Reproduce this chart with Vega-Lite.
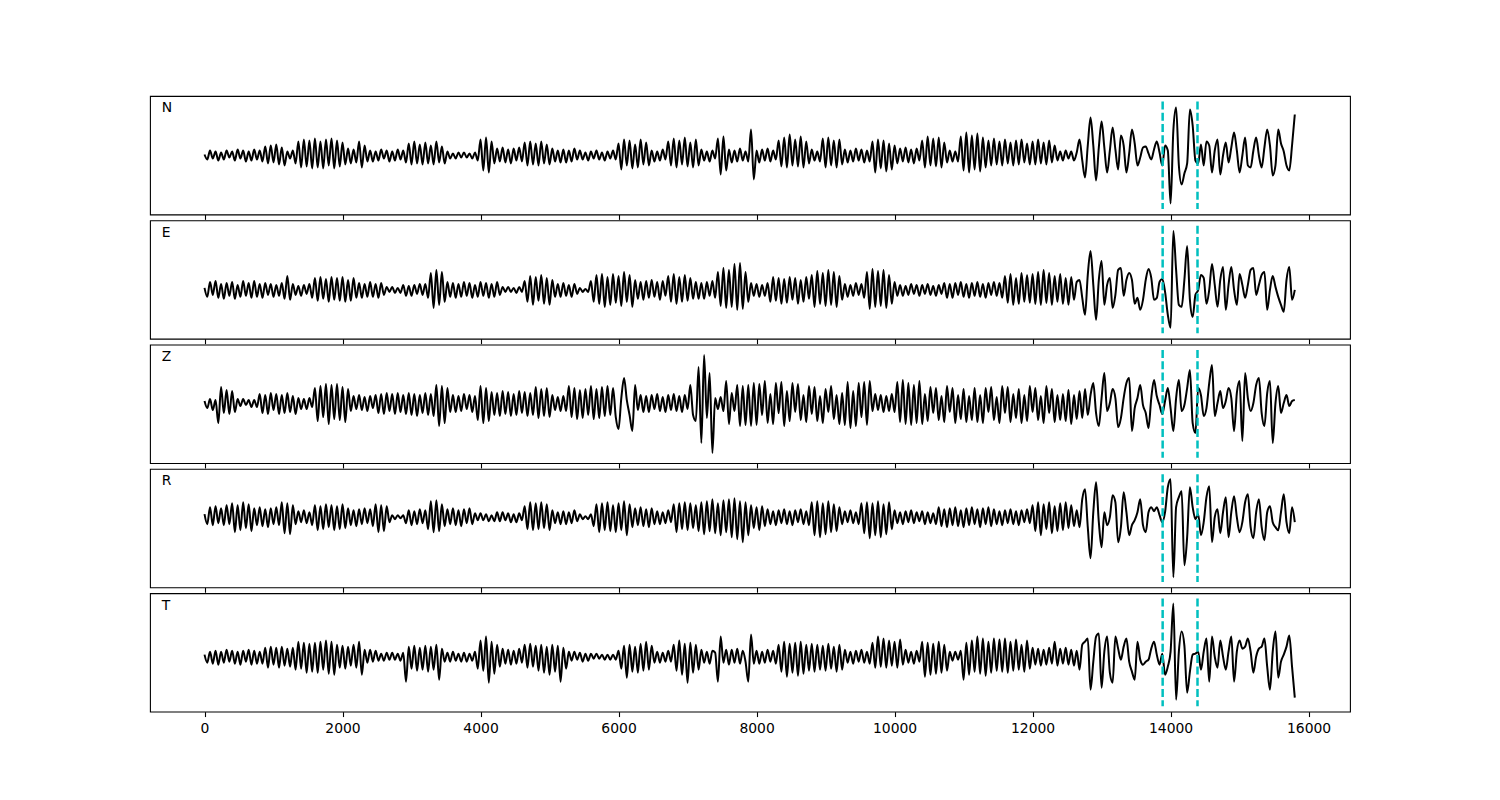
{
"$schema":"https://vega.github.io/schema/vega-lite/v6.json",
"padding":{"left":149,"top":95,"right":0,"bottom":0},
"background":"#ffffff",
"config":{"view":{"stroke":"#000000","strokeWidth":1.1}},
"spacing":5.3,
"bounds":"flush",
"data":{"values":[
{"x":0,"N":1,"E":2,"Z":2,"R":3,"T":2},{"x":40,"N":-4,"E":-7,"Z":-5,"R":-7,"T":-6},{"x":80,"N":5,"E":8,"Z":4,"R":10,"T":5},{"x":120,"N":-3,"E":-5,"Z":-7,"R":-8,"T":-7},{"x":160,"N":4,"E":9,"Z":3,"R":11,"T":6},{"x":200,"N":-5,"E":-8,"Z":-20,"R":-6,"T":-8},{"x":240,"N":3,"E":6,"Z":16,"R":9,"T":5},{"x":280,"N":-4,"E":-9,"Z":-10,"R":-8,"T":-6},{"x":320,"N":5,"E":7,"Z":13,"R":12,"T":7},{"x":360,"N":-2,"E":-6,"Z":-11,"R":-7,"T":-5},
{"x":400,"N":4,"E":8,"Z":12,"R":14,"T":6},{"x":440,"N":-5,"E":-9,"Z":-9,"R":-15,"T":-7},{"x":480,"N":6,"E":5,"Z":4,"R":12,"T":5},{"x":520,"N":-3,"E":-7,"Z":-3,"R":-13,"T":-8},{"x":560,"N":5,"E":9,"Z":4,"R":15,"T":6},{"x":600,"N":-6,"E":-6,"Z":-2,"R":-11,"T":-5},{"x":640,"N":4,"E":7,"Z":3,"R":13,"T":7},{"x":680,"N":-5,"E":-8,"Z":-4,"R":-14,"T":-8},{"x":720,"N":6,"E":9,"Z":3,"R":9,"T":6},{"x":760,"N":-4,"E":-7,"Z":-4,"R":-8,"T":-7},
{"x":800,"N":5,"E":6,"Z":9,"R":10,"T":5},{"x":840,"N":-6,"E":-8,"Z":-10,"R":-9,"T":-7},{"x":880,"N":9,"E":7,"Z":8,"R":8,"T":9},{"x":920,"N":-8,"E":-5,"Z":-11,"R":-10,"T":-11},{"x":960,"N":10,"E":6,"Z":10,"R":9,"T":10},{"x":1000,"N":-7,"E":-7,"Z":-7,"R":-7,"T":-8},{"x":1040,"N":11,"E":5,"Z":9,"R":10,"T":9},{"x":1080,"N":-9,"E":-6,"Z":-11,"R":-8,"T":-11},{"x":1120,"N":8,"E":7,"Z":8,"R":15,"T":10},{"x":1160,"N":-10,"E":-9,"Z":-10,"R":-16,"T":-9},
{"x":1200,"N":4,"E":14,"Z":10,"R":14,"T":8},{"x":1240,"N":-3,"E":-10,"Z":-9,"R":-17,"T":-10},{"x":1280,"N":5,"E":6,"Z":7,"R":12,"T":9},{"x":1320,"N":-8,"E":-5,"Z":-11,"R":-7,"T":-13},{"x":1360,"N":14,"E":4,"Z":5,"R":6,"T":15},{"x":1400,"N":-12,"E":-6,"Z":-6,"R":-5,"T":-12},{"x":1440,"N":16,"E":5,"Z":4,"R":7,"T":14},{"x":1480,"N":-11,"E":-4,"Z":-6,"R":-6,"T":-16},{"x":1520,"N":15,"E":6,"Z":5,"R":5,"T":13},{"x":1560,"N":-13,"E":-8,"Z":-4,"R":-8,"T":-15},
{"x":1600,"N":17,"E":12,"Z":15,"R":12,"T":14},{"x":1640,"N":-12,"E":-11,"Z":-18,"R":-13,"T":-16},{"x":1680,"N":14,"E":13,"Z":17,"R":11,"T":15},{"x":1720,"N":-13,"E":-9,"Z":-14,"R":-12,"T":-13},{"x":1760,"N":16,"E":11,"Z":19,"R":13,"T":16},{"x":1800,"N":-10,"E":-12,"Z":-21,"R":-10,"T":-17},{"x":1840,"N":17,"E":13,"Z":18,"R":12,"T":15},{"x":1880,"N":-13,"E":-10,"Z":-16,"R":-13,"T":-18},{"x":1920,"N":15,"E":12,"Z":19,"R":11,"T":12},{"x":1960,"N":-11,"E":-11,"Z":-17,"R":-12,"T":-11},
{"x":2000,"N":13,"E":13,"Z":16,"R":13,"T":11},{"x":2040,"N":-9,"E":-12,"Z":-19,"R":-11,"T":-12},{"x":2080,"N":7,"E":10,"Z":14,"R":9,"T":10},{"x":2120,"N":-8,"E":-11,"Z":-8,"R":-8,"T":-9},{"x":2160,"N":6,"E":12,"Z":7,"R":7,"T":12},{"x":2200,"N":-7,"E":-8,"Z":-6,"R":-9,"T":-11},{"x":2240,"N":14,"E":7,"Z":8,"R":8,"T":15},{"x":2280,"N":-12,"E":-8,"Z":-7,"R":-7,"T":-18},{"x":2320,"N":10,"E":6,"Z":6,"R":9,"T":7},{"x":2360,"N":-6,"E":-7,"Z":-8,"R":-6,"T":-6},
{"x":2400,"N":5,"E":8,"Z":7,"R":8,"T":7},{"x":2440,"N":-6,"E":-7,"Z":-5,"R":-9,"T":-5},{"x":2480,"N":4,"E":6,"Z":8,"R":13,"T":6},{"x":2520,"N":-5,"E":-8,"Z":-10,"R":-15,"T":-4},{"x":2560,"N":6,"E":7,"Z":9,"R":12,"T":3},{"x":2600,"N":-3,"E":-5,"Z":-11,"R":-14,"T":-4},{"x":2640,"N":5,"E":3,"Z":10,"R":11,"T":4},{"x":2680,"N":-6,"E":-2,"Z":-8,"R":-5,"T":-3},{"x":2720,"N":4,"E":3,"Z":9,"R":2,"T":4},{"x":2760,"N":-5,"E":-3,"Z":-11,"R":-2,"T":-3},
{"x":2800,"N":6,"E":2,"Z":10,"R":2,"T":3},{"x":2840,"N":-4,"E":-3,"Z":-9,"R":-1,"T":-4},{"x":2880,"N":5,"E":5,"Z":8,"R":2,"T":4},{"x":2920,"N":-7,"E":-6,"Z":-11,"R":-6,"T":-25},{"x":2960,"N":12,"E":4,"Z":10,"R":7,"T":10},{"x":3000,"N":-9,"E":-6,"Z":-12,"R":-8,"T":-12},{"x":3040,"N":14,"E":5,"Z":9,"R":6,"T":11},{"x":3080,"N":-8,"E":-4,"Z":-13,"R":-7,"T":-14},{"x":3120,"N":11,"E":6,"Z":8,"R":8,"T":9},{"x":3160,"N":-9,"E":-5,"Z":-10,"R":-6,"T":-13},
{"x":3200,"N":13,"E":6,"Z":10,"R":7,"T":11},{"x":3240,"N":-8,"E":-8,"Z":-12,"R":-12,"T":-15},{"x":3280,"N":10,"E":17,"Z":9,"R":16,"T":10},{"x":3320,"N":-9,"E":-18,"Z":-13,"R":-15,"T":-13},{"x":3360,"N":14,"E":20,"Z":18,"R":17,"T":12},{"x":3400,"N":-7,"E":-15,"Z":-23,"R":-14,"T":-23},{"x":3440,"N":9,"E":18,"Z":17,"R":13,"T":8},{"x":3480,"N":-8,"E":-12,"Z":-20,"R":-9,"T":-5},{"x":3520,"N":4,"E":8,"Z":15,"R":8,"T":4},{"x":3560,"N":-3,"E":-7,"Z":-9,"R":-7,"T":-5},
{"x":3600,"N":2,"E":7,"Z":8,"R":9,"T":5},{"x":3640,"N":-3,"E":-8,"Z":-9,"R":-8,"T":-4},{"x":3680,"N":3,"E":6,"Z":7,"R":7,"T":3},{"x":3720,"N":-2,"E":-7,"Z":-8,"R":-9,"T":-5},{"x":3760,"N":3,"E":8,"Z":9,"R":8,"T":4},{"x":3800,"N":-2,"E":-6,"Z":-6,"R":-6,"T":-5},{"x":3840,"N":2,"E":7,"Z":8,"R":9,"T":3},{"x":3880,"N":-3,"E":-8,"Z":-9,"R":-7,"T":-4},{"x":3920,"N":3,"E":5,"Z":7,"R":4,"T":5},{"x":3960,"N":-5,"E":-7,"Z":-17,"R":-3,"T":-12},
{"x":4000,"N":16,"E":8,"Z":17,"R":4,"T":16},{"x":4040,"N":-15,"E":-6,"Z":-20,"R":-3,"T":-14},{"x":4080,"N":18,"E":7,"Z":15,"R":3,"T":20},{"x":4120,"N":-17,"E":-8,"Z":-18,"R":-4,"T":-26},{"x":4160,"N":14,"E":6,"Z":11,"R":2,"T":15},{"x":4200,"N":-8,"E":-7,"Z":-12,"R":-4,"T":-17},{"x":4240,"N":7,"E":8,"Z":10,"R":5,"T":12},{"x":4280,"N":-6,"E":-5,"Z":-13,"R":-4,"T":-10},{"x":4320,"N":8,"E":3,"Z":12,"R":5,"T":8},{"x":4360,"N":-7,"E":-2,"Z":-11,"R":-3,"T":-7},
{"x":4400,"N":6,"E":3,"Z":11,"R":4,"T":7},{"x":4440,"N":-8,"E":-2,"Z":-13,"R":-5,"T":-8},{"x":4480,"N":7,"E":2,"Z":9,"R":3,"T":6},{"x":4520,"N":-5,"E":-3,"Z":-12,"R":-5,"T":-7},{"x":4560,"N":8,"E":3,"Z":12,"R":4,"T":8},{"x":4600,"N":-6,"E":-2,"Z":-10,"R":-3,"T":-6},{"x":4640,"N":13,"E":9,"Z":11,"R":11,"T":12},{"x":4680,"N":-10,"E":-12,"Z":-13,"R":-12,"T":-11},{"x":4720,"N":14,"E":14,"Z":10,"R":15,"T":13},{"x":4760,"N":-9,"E":-15,"Z":-12,"R":-13,"T":-10},
{"x":4800,"N":12,"E":13,"Z":16,"R":14,"T":11},{"x":4840,"N":-10,"E":-11,"Z":-15,"R":-12,"T":-14},{"x":4880,"N":14,"E":15,"Z":14,"R":15,"T":12},{"x":4920,"N":-8,"E":-14,"Z":-13,"R":-11,"T":-16},{"x":4960,"N":11,"E":12,"Z":15,"R":13,"T":10},{"x":5000,"N":-9,"E":-15,"Z":-14,"R":-13,"T":-18},{"x":5040,"N":7,"E":10,"Z":8,"R":7,"T":12},{"x":5080,"N":-6,"E":-7,"Z":-7,"R":-6,"T":-15},{"x":5120,"N":5,"E":6,"Z":6,"R":5,"T":11},{"x":5160,"N":-7,"E":-7,"Z":-8,"R":-7,"T":-25},
{"x":5200,"N":6,"E":7,"Z":7,"R":6,"T":9},{"x":5240,"N":-7,"E":-6,"Z":-8,"R":-7,"T":-12},{"x":5280,"N":5,"E":5,"Z":17,"R":5,"T":5},{"x":5320,"N":-6,"E":-7,"Z":-14,"R":-6,"T":-4},{"x":5360,"N":7,"E":6,"Z":15,"R":7,"T":5},{"x":5400,"N":-4,"E":-4,"Z":-16,"R":-4,"T":-3},{"x":5440,"N":5,"E":2,"Z":13,"R":3,"T":4},{"x":5480,"N":-4,"E":-2,"Z":-15,"R":-2,"T":-5},{"x":5520,"N":3,"E":1,"Z":14,"R":1,"T":3},{"x":5560,"N":-5,"E":-2,"Z":-12,"R":-2,"T":-4},
{"x":5600,"N":4,"E":9,"Z":17,"R":3,"T":3},{"x":5640,"N":-3,"E":-12,"Z":-16,"R":-9,"T":-2},{"x":5680,"N":5,"E":15,"Z":14,"R":13,"T":3},{"x":5720,"N":-4,"E":-14,"Z":-15,"R":-15,"T":-2},{"x":5760,"N":3,"E":16,"Z":16,"R":14,"T":2},{"x":5800,"N":-5,"E":-17,"Z":-13,"R":-13,"T":-3},{"x":5840,"N":4,"E":13,"Z":17,"R":15,"T":2},{"x":5880,"N":-3,"E":-15,"Z":-12,"R":-14,"T":-3},{"x":5920,"N":5,"E":16,"Z":15,"R":12,"T":2},{"x":5960,"N":-4,"E":-13,"Z":-14,"R":-15,"T":-3},
{"x":6000,"N":12,"E":14,"Z":-26,"R":14,"T":6},{"x":6040,"N":-14,"E":-16,"Z":5,"R":-13,"T":-12},{"x":6080,"N":16,"E":18,"Z":25,"R":16,"T":11},{"x":6120,"N":-10,"E":-12,"Z":3,"R":-18,"T":-21},{"x":6160,"N":15,"E":15,"Z":-12,"R":13,"T":12},{"x":6200,"N":-13,"E":-17,"Z":-28,"R":-10,"T":-15},{"x":6240,"N":11,"E":10,"Z":18,"R":9,"T":10},{"x":6280,"N":-12,"E":-9,"Z":-7,"R":-8,"T":-16},{"x":6320,"N":16,"E":8,"Z":8,"R":10,"T":13},{"x":6360,"N":-9,"E":-10,"Z":-9,"R":-9,"T":-14},
{"x":6400,"N":13,"E":9,"Z":7,"R":8,"T":15},{"x":6440,"N":-10,"E":-8,"Z":-9,"R":-10,"T":-13},{"x":6480,"N":5,"E":10,"Z":8,"R":9,"T":11},{"x":6520,"N":-6,"E":-7,"Z":-6,"R":-7,"T":-6},{"x":6560,"N":4,"E":8,"Z":9,"R":6,"T":5},{"x":6600,"N":-5,"E":-10,"Z":-8,"R":-7,"T":-6},{"x":6640,"N":6,"E":9,"Z":6,"R":5,"T":4},{"x":6680,"N":-4,"E":-6,"Z":-9,"R":-6,"T":-5},{"x":6720,"N":14,"E":14,"Z":8,"R":7,"T":6},{"x":6760,"N":-10,"E":-12,"Z":-7,"R":-5,"T":-5},
{"x":6800,"N":17,"E":16,"Z":9,"R":13,"T":12},{"x":6840,"N":-12,"E":-14,"Z":-8,"R":-15,"T":-14},{"x":6880,"N":15,"E":13,"Z":7,"R":14,"T":16},{"x":6920,"N":-9,"E":-12,"Z":-9,"R":-12,"T":-18},{"x":6960,"N":18,"E":15,"Z":8,"R":15,"T":13},{"x":7000,"N":-11,"E":-11,"Z":-6,"R":-13,"T":-26},{"x":7040,"N":13,"E":12,"Z":18,"R":14,"T":14},{"x":7080,"N":-12,"E":-9,"Z":-12,"R":-11,"T":-16},{"x":7120,"N":16,"E":8,"Z":-18,"R":12,"T":12},{"x":7160,"N":-10,"E":-9,"Z":36,"R":-14,"T":-13},
{"x":7200,"N":6,"E":7,"Z":-40,"R":15,"T":7},{"x":7240,"N":-5,"E":-9,"Z":48,"R":-17,"T":-6},{"x":7280,"N":4,"E":8,"Z":-15,"R":16,"T":5},{"x":7320,"N":-6,"E":-6,"Z":30,"R":-14,"T":-7},{"x":7360,"N":5,"E":9,"Z":-50,"R":18,"T":6},{"x":7400,"N":-3,"E":-8,"Z":5,"R":-16,"T":4},{"x":7440,"N":17,"E":18,"Z":-6,"R":14,"T":-25},{"x":7480,"N":-19,"E":-16,"Z":6,"R":-18,"T":20},{"x":7520,"N":19,"E":22,"Z":-8,"R":17,"T":-6},{"x":7560,"N":-15,"E":-18,"Z":22,"R":-15,"T":7},
{"x":7600,"N":6,"E":20,"Z":-21,"R":18,"T":-8},{"x":7640,"N":-7,"E":-17,"Z":10,"R":-20,"T":7},{"x":7680,"N":5,"E":26,"Z":-8,"R":19,"T":-6},{"x":7720,"N":-6,"E":-20,"Z":18,"R":-22,"T":8},{"x":7760,"N":7,"E":27,"Z":-23,"R":16,"T":-7},{"x":7800,"N":-5,"E":-19,"Z":17,"R":-25,"T":6},{"x":7840,"N":4,"E":18,"Z":-22,"R":15,"T":-5},{"x":7880,"N":-6,"E":-12,"Z":18,"R":-18,"T":-25},{"x":7920,"N":26,"E":7,"Z":-23,"R":12,"T":22},{"x":7960,"N":-24,"E":-6,"Z":20,"R":-11,"T":-7},
{"x":8000,"N":5,"E":6,"Z":-22,"R":10,"T":6},{"x":8040,"N":-7,"E":-7,"Z":19,"R":-13,"T":-7},{"x":8080,"N":6,"E":5,"Z":-12,"R":11,"T":5},{"x":8120,"N":-5,"E":-6,"Z":22,"R":-9,"T":-6},{"x":8160,"N":7,"E":7,"Z":-20,"R":8,"T":7},{"x":8200,"N":-6,"E":-12,"Z":9,"R":-7,"T":-5},{"x":8240,"N":5,"E":13,"Z":-21,"R":6,"T":6},{"x":8280,"N":-4,"E":-11,"Z":20,"R":-8,"T":-7},{"x":8320,"N":15,"E":12,"Z":-10,"R":7,"T":12},{"x":8360,"N":-11,"E":-14,"Z":21,"R":-6,"T":-15},
{"x":8400,"N":18,"E":11,"Z":-23,"R":8,"T":15},{"x":8440,"N":-12,"E":-13,"Z":12,"R":-7,"T":-20},{"x":8480,"N":21,"E":13,"Z":-18,"R":6,"T":13},{"x":8520,"N":-10,"E":-10,"Z":20,"R":-8,"T":-16},{"x":8560,"N":16,"E":12,"Z":-9,"R":7,"T":14},{"x":8600,"N":-11,"E":-14,"Z":19,"R":-5,"T":-19},{"x":8640,"N":19,"E":10,"Z":-17,"R":8,"T":15},{"x":8680,"N":-12,"E":-12,"Z":8,"R":-7,"T":-17},{"x":8720,"N":14,"E":13,"Z":-19,"R":6,"T":12},{"x":8760,"N":-8,"E":-9,"Z":17,"R":-8,"T":-14},
{"x":8800,"N":6,"E":15,"Z":-11,"R":15,"T":13},{"x":8840,"N":-5,"E":-17,"Z":16,"R":-18,"T":-15},{"x":8880,"N":4,"E":19,"Z":-18,"R":16,"T":12},{"x":8920,"N":-6,"E":-14,"Z":7,"R":-20,"T":-13},{"x":8960,"N":17,"E":17,"Z":-20,"R":14,"T":11},{"x":9000,"N":-12,"E":-16,"Z":14,"R":-17,"T":-14},{"x":9040,"N":18,"E":20,"Z":-9,"R":16,"T":13},{"x":9080,"N":-10,"E":-15,"Z":17,"R":-15,"T":-12},{"x":9120,"N":15,"E":18,"Z":-16,"R":13,"T":10},{"x":9160,"N":-12,"E":-17,"Z":8,"R":-14,"T":-15},
{"x":9200,"N":16,"E":14,"Z":-21,"R":10,"T":12},{"x":9240,"N":-9,"E":-10,"Z":10,"R":-7,"T":-13},{"x":9280,"N":6,"E":6,"Z":-22,"R":6,"T":7},{"x":9320,"N":-7,"E":-7,"Z":21,"R":-5,"T":-6},{"x":9360,"N":5,"E":5,"Z":-25,"R":7,"T":5},{"x":9400,"N":-6,"E":-6,"Z":12,"R":-6,"T":-7},{"x":9440,"N":7,"E":7,"Z":-23,"R":5,"T":6},{"x":9480,"N":-5,"E":-5,"Z":20,"R":-7,"T":-5},{"x":9520,"N":6,"E":6,"Z":-14,"R":14,"T":7},{"x":9560,"N":-7,"E":-8,"Z":21,"R":-16,"T":-6},
{"x":9600,"N":5,"E":18,"Z":-22,"R":15,"T":5},{"x":9640,"N":-6,"E":-19,"Z":22,"R":-21,"T":-7},{"x":9680,"N":14,"E":21,"Z":-8,"R":14,"T":14},{"x":9720,"N":-17,"E":-17,"Z":9,"R":-18,"T":-11},{"x":9760,"N":16,"E":19,"Z":-7,"R":16,"T":20},{"x":9800,"N":-13,"E":-16,"Z":8,"R":-20,"T":-10},{"x":9840,"N":15,"E":20,"Z":-9,"R":13,"T":18},{"x":9880,"N":-16,"E":-18,"Z":7,"R":-17,"T":-11},{"x":9920,"N":12,"E":15,"Z":-8,"R":15,"T":16},{"x":9960,"N":-14,"E":-14,"Z":9,"R":-12,"T":-9},
{"x":10000,"N":10,"E":8,"Z":-9,"R":7,"T":15},{"x":10040,"N":-8,"E":-6,"Z":21,"R":-6,"T":-11},{"x":10080,"N":7,"E":5,"Z":-19,"R":5,"T":17},{"x":10120,"N":-6,"E":-6,"Z":23,"R":-7,"T":-8},{"x":10160,"N":8,"E":4,"Z":-21,"R":6,"T":7},{"x":10200,"N":-7,"E":-5,"Z":20,"R":-5,"T":-6},{"x":10240,"N":6,"E":6,"Z":-22,"R":7,"T":5},{"x":10280,"N":-8,"E":-4,"Z":18,"R":-6,"T":-7},{"x":10320,"N":7,"E":5,"Z":-20,"R":5,"T":6},{"x":10360,"N":-5,"E":-6,"Z":22,"R":-4,"T":-5},
{"x":10400,"N":15,"E":5,"Z":-21,"R":6,"T":15},{"x":10440,"N":-12,"E":-4,"Z":9,"R":-7,"T":-20},{"x":10480,"N":19,"E":6,"Z":-18,"R":5,"T":14},{"x":10520,"N":-10,"E":-5,"Z":16,"R":-6,"T":-18},{"x":10560,"N":17,"E":4,"Z":-10,"R":4,"T":13},{"x":10600,"N":-11,"E":-6,"Z":15,"R":-7,"T":-17},{"x":10640,"N":18,"E":5,"Z":-17,"R":10,"T":15},{"x":10680,"N":-12,"E":-4,"Z":7,"R":-9,"T":-16},{"x":10720,"N":13,"E":7,"Z":-19,"R":8,"T":12},{"x":10760,"N":-7,"E":-8,"Z":17,"R":-10,"T":-14},
{"x":10800,"N":5,"E":6,"Z":-9,"R":9,"T":5},{"x":10840,"N":-6,"E":-8,"Z":15,"R":-8,"T":-4},{"x":10880,"N":4,"E":7,"Z":-20,"R":10,"T":5},{"x":10920,"N":-6,"E":-5,"Z":8,"R":-9,"T":-3},{"x":10960,"N":19,"E":8,"Z":-16,"R":7,"T":6},{"x":11000,"N":-15,"E":-7,"Z":14,"R":-10,"T":-23},{"x":11040,"N":23,"E":6,"Z":-19,"R":9,"T":14},{"x":11080,"N":-17,"E":-8,"Z":7,"R":-8,"T":-18},{"x":11120,"N":20,"E":7,"Z":-17,"R":10,"T":16},{"x":11160,"N":-14,"E":-6,"Z":15,"R":-7,"T":-15},
{"x":11200,"N":22,"E":8,"Z":-19,"R":8,"T":20},{"x":11240,"N":-16,"E":-7,"Z":8,"R":-10,"T":-17},{"x":11280,"N":18,"E":6,"Z":-20,"R":9,"T":18},{"x":11320,"N":-12,"E":-8,"Z":15,"R":-7,"T":-19},{"x":11360,"N":15,"E":7,"Z":-9,"R":10,"T":15},{"x":11400,"N":-10,"E":-5,"Z":16,"R":-9,"T":-16},{"x":11440,"N":17,"E":8,"Z":-17,"R":8,"T":18},{"x":11480,"N":-9,"E":-6,"Z":6,"R":-7,"T":-14},{"x":11520,"N":14,"E":7,"Z":-20,"R":6,"T":17},{"x":11560,"N":-10,"E":-8,"Z":17,"R":-8,"T":-15},
{"x":11600,"N":16,"E":14,"Z":-10,"R":7,"T":18},{"x":11640,"N":-8,"E":-13,"Z":16,"R":-6,"T":-16},{"x":11680,"N":13,"E":16,"Z":-19,"R":8,"T":15},{"x":11720,"N":-10,"E":-15,"Z":9,"R":-7,"T":-14},{"x":11760,"N":15,"E":12,"Z":-15,"R":6,"T":17},{"x":11800,"N":-9,"E":-14,"Z":14,"R":-8,"T":-13},{"x":11840,"N":16,"E":17,"Z":-20,"R":7,"T":12},{"x":11880,"N":-7,"E":-12,"Z":8,"R":-5,"T":-15},{"x":11920,"N":12,"E":15,"Z":-18,"R":8,"T":16},{"x":11960,"N":-9,"E":-13,"Z":17,"R":-6,"T":-12},
{"x":12000,"N":14,"E":16,"Z":-9,"R":12,"T":9},{"x":12040,"N":-9,"E":-14,"Z":15,"R":-14,"T":-8},{"x":12080,"N":16,"E":18,"Z":-17,"R":15,"T":8},{"x":12120,"N":-8,"E":-15,"Z":7,"R":-18,"T":-9},{"x":12160,"N":13,"E":20,"Z":-20,"R":13,"T":7},{"x":12200,"N":-9,"E":-13,"Z":17,"R":-12,"T":-8},{"x":12240,"N":15,"E":17,"Z":-10,"R":15,"T":9},{"x":12280,"N":-7,"E":-15,"Z":14,"R":-16,"T":-7},{"x":12320,"N":10,"E":14,"Z":-19,"R":11,"T":15},{"x":12360,"N":-5,"E":-12,"Z":8,"R":-14,"T":-9},
{"x":12400,"N":4,"E":16,"Z":-17,"R":14,"T":8},{"x":12440,"N":-5,"E":-14,"Z":9,"R":-13,"T":-7},{"x":12480,"N":5,"E":12,"Z":-18,"R":15,"T":9},{"x":12520,"N":-3,"E":-15,"Z":13,"R":-11,"T":-8},{"x":12560,"N":4,"E":13,"Z":-21,"R":12,"T":7},{"x":12600,"N":-5,"E":-10,"Z":8,"R":-9,"T":-9},{"x":12640,"N":3,"E":8,"Z":-16,"R":7,"T":6},{"x":12680,"N":16,"E":10,"Z":12,"R":-10,"T":-13},{"x":12720,"N":-5,"E":-8,"Z":-15,"R":18,"T":12},{"x":12760,"N":-22,"E":-25,"Z":14,"R":28,"T":15},
{"x":12800,"N":10,"E":15,"Z":-12,"R":-10,"T":18},{"x":12840,"N":38,"E":39,"Z":8,"R":-41,"T":-33},{"x":12880,"N":10,"E":5,"Z":20,"R":5,"T":-5},{"x":12920,"N":-25,"E":-30,"Z":-10,"R":35,"T":20},{"x":12960,"N":8,"E":10,"Z":-23,"R":-5,"T":23},{"x":13000,"N":34,"E":29,"Z":5,"R":-30,"T":-31},{"x":13040,"N":8,"E":-15,"Z":30,"R":5,"T":5},{"x":13080,"N":-17,"E":5,"Z":-8,"R":-8,"T":20},{"x":13120,"N":5,"E":12,"Z":0,"R":0,"T":-16},{"x":13160,"N":28,"E":-18,"Z":14,"R":22,"T":-26},
{"x":13200,"N":6,"E":-5,"Z":5,"R":15,"T":20},{"x":13240,"N":-14,"E":20,"Z":-24,"R":-25,"T":8},{"x":13280,"N":20,"E":22,"Z":-15,"R":-10,"T":-3},{"x":13320,"N":10,"E":-6,"Z":5,"R":25,"T":10},{"x":13360,"N":-17,"E":10,"Z":20,"R":5,"T":18},{"x":13400,"N":2,"E":17,"Z":25,"R":-18,"T":-5},{"x":13440,"N":26,"E":10,"Z":-28,"R":-8,"T":-15},{"x":13480,"N":12,"E":-14,"Z":-5,"R":-3,"T":-23},{"x":13520,"N":-10,"E":-8,"Z":5,"R":5,"T":15},{"x":13560,"N":-2,"E":-20,"Z":18,"R":18,"T":-3},
{"x":13600,"N":8,"E":-10,"Z":-2,"R":-8,"T":-8},{"x":13640,"N":9,"E":10,"Z":-10,"R":-15,"T":-5},{"x":13680,"N":2,"E":21,"Z":-25,"R":5,"T":-3},{"x":13720,"N":-4,"E":12,"Z":5,"R":10,"T":8},{"x":13760,"N":6,"E":-10,"Z":23,"R":6,"T":15},{"x":13800,"N":14,"E":-8,"Z":7,"R":10,"T":2},{"x":13840,"N":3,"E":8,"Z":-2,"R":2,"T":-8},{"x":13880,"N":-10,"E":11,"Z":-11,"R":-5,"T":3},{"x":13920,"N":10,"E":-2,"Z":2,"R":5,"T":-18},{"x":13960,"N":5,"E":-25,"Z":15,"R":30,"T":-10},
{"x":14000,"N":-48,"E":-38,"Z":-5,"R":38,"T":5},{"x":14040,"N":25,"E":59,"Z":-28,"R":-60,"T":53},{"x":14080,"N":48,"E":20,"Z":5,"R":10,"T":-43},{"x":14120,"N":-10,"E":-15,"Z":23,"R":20,"T":5},{"x":14160,"N":-29,"E":-17,"Z":-8,"R":26,"T":25},{"x":14200,"N":-18,"E":10,"Z":-2,"R":-48,"T":11},{"x":14240,"N":-8,"E":44,"Z":15,"R":-20,"T":-36},{"x":14280,"N":46,"E":-10,"Z":33,"R":30,"T":-15},{"x":14320,"N":30,"E":-27,"Z":-20,"R":10,"T":2},{"x":14360,"N":-5,"E":-5,"Z":-30,"R":-2,"T":3},
{"x":14400,"N":-8,"E":0,"Z":15,"R":3,"T":5},{"x":14440,"N":11,"E":15,"Z":8,"R":-18,"T":-13},{"x":14480,"N":-10,"E":12,"Z":-13,"R":-5,"T":5},{"x":14520,"N":14,"E":-14,"Z":-5,"R":20,"T":18},{"x":14560,"N":10,"E":0,"Z":20,"R":31,"T":-25},{"x":14600,"N":-17,"E":26,"Z":38,"R":-25,"T":20},{"x":14640,"N":5,"E":5,"Z":-13,"R":0,"T":0},{"x":14680,"N":16,"E":-17,"Z":0,"R":8,"T":-11},{"x":14720,"N":-19,"E":10,"Z":12,"R":-16,"T":16},{"x":14760,"N":0,"E":23,"Z":-5,"R":5,"T":0},
{"x":14800,"N":13,"E":-20,"Z":2,"R":20,"T":-13},{"x":14840,"N":-7,"E":5,"Z":15,"R":-20,"T":5},{"x":14880,"N":8,"E":23,"Z":5,"R":5,"T":20},{"x":14920,"N":23,"E":0,"Z":-28,"R":21,"T":-25},{"x":14960,"N":5,"E":-15,"Z":10,"R":0,"T":5},{"x":15000,"N":-17,"E":16,"Z":22,"R":-15,"T":16},{"x":15040,"N":0,"E":5,"Z":-38,"R":-5,"T":8},{"x":15080,"N":18,"E":-8,"Z":30,"R":15,"T":10},{"x":15120,"N":-10,"E":5,"Z":5,"R":23,"T":18},{"x":15160,"N":-12,"E":20,"Z":-8,"R":-10,"T":5},
{"x":15200,"N":5,"E":22,"Z":0,"R":-21,"T":-16},{"x":15240,"N":18,"E":-5,"Z":18,"R":5,"T":0},{"x":15280,"N":0,"E":5,"Z":25,"R":18,"T":8},{"x":15320,"N":-12,"E":15,"Z":-10,"R":-10,"T":10},{"x":15360,"N":8,"E":18,"Z":-23,"R":-23,"T":18},{"x":15400,"N":26,"E":-20,"Z":10,"R":5,"T":-10},{"x":15440,"N":10,"E":0,"Z":22,"R":11,"T":-33},{"x":15480,"N":-20,"E":14,"Z":-40,"R":-5,"T":5},{"x":15520,"N":-10,"E":3,"Z":0,"R":-10,"T":25},{"x":15560,"N":26,"E":-7,"Z":17,"R":-13,"T":-21},
{"x":15600,"N":12,"E":-15,"Z":-10,"R":5,"T":-5},{"x":15640,"N":4,"E":-22,"Z":0,"R":23,"T":2},{"x":15680,"N":-10,"E":10,"Z":8,"R":-5,"T":10},{"x":15720,"N":-15,"E":23,"Z":-3,"R":-16,"T":21},{"x":15760,"N":10,"E":-10,"Z":2,"R":10,"T":-10},{"x":15800,"N":41,"E":0,"Z":3,"R":-5,"T":-41}
]},
"vconcat":[
{"width":1200,"height":118.46,"layer":[
{"mark":{"type":"line","color":"#000000","strokeWidth":2,"interpolate":"monotone"},"encoding":{"x":{"field":"x","type":"quantitative","scale":{"domain":[-790,16600],"nice":false,"zero":false},"axis":{"values":[0,2000,4000,6000,8000,10000,12000,14000,16000],"labels":false,"domain":false,"grid":false,"ticks":true,"tickSize":4.9,"tickWidth":1.1,"tickColor":"#000000","title":null}},"y":{"field":"N","type":"quantitative","scale":{"domain":[-59,59.5],"nice":false,"zero":false},"axis":null}}},
{"data":{"values":[{"t":13885},{"t":14390}]},"mark":{"type":"rule","color":"#00bfbf","strokeWidth":2.5,"strokeDash":[8,3.3]},"encoding":{"x":{"field":"t","type":"quantitative"},"y":{"datum":54.1},"y2":{"datum":-53.6}}},
{"data":{"values":[{"a":1}]},"mark":{"type":"text","text":"N","align":"left","baseline":"alphabetic","font":"DejaVu Sans","fontSize":13.9,"color":"#000000"},"encoding":{"x":{"datum":-620},"y":{"datum":43.2}}}
]},
{"width":1200,"height":118.46,"layer":[
{"mark":{"type":"line","color":"#000000","strokeWidth":2,"interpolate":"monotone"},"encoding":{"x":{"field":"x","type":"quantitative","scale":{"domain":[-790,16600],"nice":false,"zero":false},"axis":{"values":[0,2000,4000,6000,8000,10000,12000,14000,16000],"labels":false,"domain":false,"grid":false,"ticks":true,"tickSize":4.9,"tickWidth":1.1,"tickColor":"#000000","title":null}},"y":{"field":"E","type":"quantitative","scale":{"domain":[-48.9,69.6],"nice":false,"zero":false},"axis":null}}},
{"data":{"values":[{"t":13885},{"t":14390}]},"mark":{"type":"rule","color":"#00bfbf","strokeWidth":2.5,"strokeDash":[8,3.3]},"encoding":{"x":{"field":"t","type":"quantitative"},"y":{"datum":64.2},"y2":{"datum":-43.5}}},
{"data":{"values":[{"a":1}]},"mark":{"type":"text","text":"E","align":"left","baseline":"alphabetic","font":"DejaVu Sans","fontSize":13.9,"color":"#000000"},"encoding":{"x":{"datum":-620},"y":{"datum":53.3}}}
]},
{"width":1200,"height":118.46,"layer":[
{"mark":{"type":"line","color":"#000000","strokeWidth":2,"interpolate":"monotone"},"encoding":{"x":{"field":"x","type":"quantitative","scale":{"domain":[-790,16600],"nice":false,"zero":false},"axis":{"values":[0,2000,4000,6000,8000,10000,12000,14000,16000],"labels":false,"domain":false,"grid":false,"ticks":true,"tickSize":4.9,"tickWidth":1.1,"tickColor":"#000000","title":null}},"y":{"field":"Z","type":"quantitative","scale":{"domain":[-60,58.5],"nice":false,"zero":false},"axis":null}}},
{"data":{"values":[{"t":13885},{"t":14390}]},"mark":{"type":"rule","color":"#00bfbf","strokeWidth":2.5,"strokeDash":[8,3.3]},"encoding":{"x":{"field":"t","type":"quantitative"},"y":{"datum":53.1},"y2":{"datum":-54.6}}},
{"data":{"values":[{"a":1}]},"mark":{"type":"text","text":"Z","align":"left","baseline":"alphabetic","font":"DejaVu Sans","fontSize":13.9,"color":"#000000"},"encoding":{"x":{"datum":-620},"y":{"datum":42.2}}}
]},
{"width":1200,"height":118.46,"layer":[
{"mark":{"type":"line","color":"#000000","strokeWidth":2,"interpolate":"monotone"},"encoding":{"x":{"field":"x","type":"quantitative","scale":{"domain":[-790,16600],"nice":false,"zero":false},"axis":{"values":[0,2000,4000,6000,8000,10000,12000,14000,16000],"labels":false,"domain":false,"grid":false,"ticks":true,"tickSize":4.9,"tickWidth":1.1,"tickColor":"#000000","title":null}},"y":{"field":"R","type":"quantitative","scale":{"domain":[-70.2,48.3],"nice":false,"zero":false},"axis":null}}},
{"data":{"values":[{"t":13885},{"t":14390}]},"mark":{"type":"rule","color":"#00bfbf","strokeWidth":2.5,"strokeDash":[8,3.3]},"encoding":{"x":{"field":"t","type":"quantitative"},"y":{"datum":42.9},"y2":{"datum":-64.8}}},
{"data":{"values":[{"a":1}]},"mark":{"type":"text","text":"R","align":"left","baseline":"alphabetic","font":"DejaVu Sans","fontSize":13.9,"color":"#000000"},"encoding":{"x":{"datum":-620},"y":{"datum":32}}}
]},
{"width":1200,"height":118.46,"layer":[
{"mark":{"type":"line","color":"#000000","strokeWidth":2,"interpolate":"monotone"},"encoding":{"x":{"field":"x","type":"quantitative","scale":{"domain":[-790,16600],"nice":false,"zero":false},"axis":{"values":[0,2000,4000,6000,8000,10000,12000,14000,16000],"format":"d","labels":true,"labelFont":"DejaVu Sans","labelFontSize":13.9,"labelColor":"#000000","labelPadding":4.9,"domain":false,"grid":false,"ticks":true,"tickSize":4.9,"tickWidth":1.1,"tickColor":"#000000","title":null}},"y":{"field":"T","type":"quantitative","scale":{"domain":[-55,63.4],"nice":false,"zero":false},"axis":null}}},
{"data":{"values":[{"t":13885},{"t":14390}]},"mark":{"type":"rule","color":"#00bfbf","strokeWidth":2.5,"strokeDash":[8,3.3]},"encoding":{"x":{"field":"t","type":"quantitative"},"y":{"datum":58},"y2":{"datum":-49.6}}},
{"data":{"values":[{"a":1}]},"mark":{"type":"text","text":"T","align":"left","baseline":"alphabetic","font":"DejaVu Sans","fontSize":13.9,"color":"#000000"},"encoding":{"x":{"datum":-620},"y":{"datum":47.1}}}
]}
],
"resolve":{"scale":{"x":"independent","y":"independent"},"axis":{"x":"independent","y":"independent"}}
}
